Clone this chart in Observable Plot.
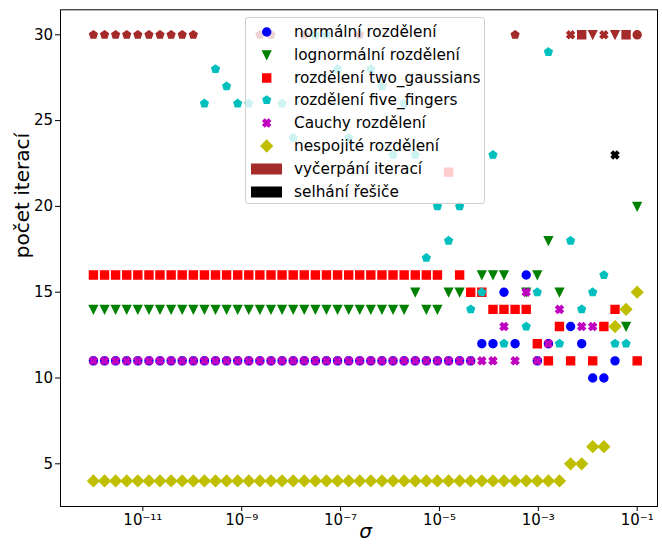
<!DOCTYPE html>
<html><head><meta charset="utf-8">
<script src="https://cdn.jsdelivr.net/npm/d3@7"></script>
<script src="https://cdn.jsdelivr.net/npm/@observablehq/plot@0.6"></script>
<style>
body{margin:0;background:#fff;}
#wrap{position:relative;width:662px;height:548px;font-family:"DejaVu Sans",sans-serif;}
#legend{position:absolute;left:245px;top:17px;width:238px;height:185px;border:1px solid #d0d0d0;border-radius:3px;background:rgba(255,255,255,0.8);}
#legend .txt{position:absolute;left:48px;font-size:15.3px;line-height:20px;white-space:nowrap;color:#000;}
#legend svg{position:absolute;}
</style></head><body><div id="wrap"></div>
<script>
// sigma values (x), 50 log-spaced points
const sigma = [1.00e-12,1.68e-12,2.81e-12,4.72e-12,7.91e-12,1.33e-11,2.22e-11,3.73e-11,6.25e-11,1.05e-10,
  1.76e-10,2.95e-10,4.94e-10,8.29e-10,1.39e-9,2.33e-9,3.91e-9,6.55e-9,1.10e-8,1.84e-8,
  3.09e-8,5.18e-8,8.69e-8,1.46e-7,2.44e-7,4.09e-7,6.87e-7,1.15e-6,1.93e-6,3.24e-6,
  5.43e-6,9.10e-6,1.53e-5,2.56e-5,4.29e-5,7.20e-5,1.21e-4,2.02e-4,3.39e-4,5.69e-4,
  9.54e-4,1.60e-3,2.68e-3,4.50e-3,7.54e-3,1.26e-2,2.12e-2,3.56e-2,5.96e-2,1.00e-1];

// iteration counts per distribution (null = not visible)
const normalni = [11,11,11,11,11,11,11,11,11,11, 11,11,11,11,11,11,11,11,11,11,
  11,11,11,11,11,11,11,11,11,11, 11,11,11,11,11,12,12,15,12,16,
  11,12,null,13,12,10,10,11,null,30];
const lognormalni = [14,14,14,14,14,14,14,14,14,14, 14,14,14,14,14,14,14,14,14,14,
  14,14,14,14,14,14,14,14,14,15, 14,14,15,15,null,16,16,16,null,15,
  16,18,15,null,null,30,null,30,13,20];
const twoGaussians = [16,16,16,16,16,16,16,16,16,16, 16,16,16,16,16,16,16,16,16,16,
  16,16,16,16,16,16,16,16,16,16, 16,16,22,16,15,15,14,14,14,14,
  12,11,13,11,30,11,13,14,30,11];
const fiveFingers = [30,30,30,30,30,30,30,30,30,30, 26,28,27,26,26,30,30,26,24,30,
  30,30,28,24,30,28,27,23,26,23, 17,20,18,20,14,15,23,12,30,13,
  15,29,12,18,14,15,16,12,12,null];
const cauchy = [11,11,11,11,11,11,11,11,11,11, 11,11,11,11,11,11,11,11,11,11,
  11,11,11,11,11,11,11,11,11,11, 11,11,11,11,11,11,11,13,11,15,
  11,12,14,30,13,13,30,23,null,null];
const nespojite = [4,4,4,4,4,4,4,4,4,4, 4,4,4,4,4,4,4,4,4,4,
  4,4,4,4,4,4,4,4,4,4, 4,4,4,4,4,4,4,4,4,4,
  4,4,4,5,5,6,6,13,14,15];

// indices of runs that exhausted iterations / where the solver failed
const vycerpaniNormalni = [49];
const vycerpaniLognormalni = [45,47];
const vycerpaniTwoGaussians = [44,48];
const vycerpaniFiveFingers = [0,1,2,3,4,5,6,7,8,9,15,16,19,24,38];
const vycerpaniCauchy = [43,46];
const vycerpaniNespojite = [];
const selhaniCauchy = [47];

const legendLabels = ["normální rozdělení","lognormální rozdělení","rozdělení two_gaussians",
  "rozdělení five_fingers","Cauchy rozdělení","nespojité rozdělení","vyčerpání iterací","selhání řešiče"];
const xTicks = [1e-11,1e-9,1e-7,1e-5,1e-3,1e-1];
const xTickLabels = ["10⁻¹¹","10⁻⁹","10⁻⁷","10⁻⁵","10⁻³","10⁻¹"];
const yTicks = [5,10,15,20,25,30];

// marker shapes (matplotlib-like)
const mk = (fn) => ({draw(ctx, size){ const h = Math.sqrt(size/Math.PI); fn(ctx, h); }});
const poly = (ctx, pts) => { ctx.moveTo(pts[0][0], pts[0][1]); for (let k=1;k<pts.length;k++) ctx.lineTo(pts[k][0], pts[k][1]); ctx.closePath(); };
const symCircle = mk((c,h)=>{ c.moveTo(h,0); c.arc(0,0,h,0,2*Math.PI); c.closePath(); });
const symTriDown = mk((c,h)=>poly(c,[[-h,-h],[h,-h],[0,h]]));
const symSquare = mk((c,h)=>poly(c,[[-h,-h],[h,-h],[h,h],[-h,h]]));
const symPentagon = mk((c,h)=>poly(c,[0,1,2,3,4].map(k=>{const a=-Math.PI/2+k*2*Math.PI/5; return [h*Math.cos(a), h*Math.sin(a)];})));
const symDiamond = mk((c,h)=>{const k=h*Math.SQRT2; poly(c,[[0,-k],[k,0],[0,k],[-k,0]]);});
const plusPts = [[-1,-3],[1,-3],[1,-1],[3,-1],[3,1],[1,1],[1,3],[-1,3],[-1,1],[-3,1],[-3,-1],[-1,-1]];
const symX = mk((c,h)=>{const s=2*h/6, r=Math.SQRT1_2; poly(c, plusPts.map(([a,b])=>[s*(a*r-b*r), s*(a*r+b*r)]));});

const BROWN = "#a52a2a";
const series = [
  {vals: normalni, exh: vycerpaniNormalni, fail: [], color: "#0000ff", sym: symCircle},
  {vals: lognormalni, exh: vycerpaniLognormalni, fail: [], color: "#008000", sym: symTriDown},
  {vals: twoGaussians, exh: vycerpaniTwoGaussians, fail: [], color: "#ff0000", sym: symSquare},
  {vals: fiveFingers, exh: vycerpaniFiveFingers, fail: [], color: "#00bfbf", sym: symPentagon},
  {vals: cauchy, exh: vycerpaniCauchy, fail: selhaniCauchy, color: "#bf00bf", sym: symX},
  {vals: nespojite, exh: vycerpaniNespojite, fail: [], color: "#bfbf00", sym: symDiamond}
];

const R = 4, SW = 1.4;
const dotMarks = [];
for (const s of series) {
  const rows = s.vals.map((v,i)=>({x: sigma[i], y: v, i})).filter(d=>d.y != null);
  const groups = [
    [rows.filter(d=>!s.exh.includes(d.i) && !s.fail.includes(d.i)), s.color],
    [rows.filter(d=>s.exh.includes(d.i)), BROWN],
    [rows.filter(d=>s.fail.includes(d.i)), "#000"]
  ];
  for (const [data, col] of groups) {
    if (!data.length) continue;
    dotMarks.push(Plot.dot(data, {x:"x", y:"y", symbol: s.sym, r: R, fill: col, stroke: col, strokeWidth: SW}));
  }
}

const chart = Plot.plot({
  width: 662, height: 548,
  marginLeft: 60, marginRight: 5, marginTop: 9.3, marginBottom: 42,
  x: {type: "log", domain: [Math.pow(10,-12.666), Math.pow(10,-0.589)]},
  y: {domain: [2.512, 31.457]},
  style: {fontFamily: "DejaVu Sans", fontSize: "15px", background: "white", color: "black", overflow: "visible"},
  marks: [
    Plot.frame({stroke: "black", strokeWidth: 1}),
    Plot.axisX({ticks: xTicks, tickFormat: (d) => xTickLabels[xTicks.indexOf(d)] ?? "", tickSize: 5, tickPadding: 2.5, fontSize: 15, label: null}),
    Plot.axisY({ticks: yTicks, tickSize: 5, tickPadding: 2.5, fontSize: 15, label: null}),
    ...dotMarks,
    Plot.text(["σ"], {text: d=>d, frameAnchor: "bottom", dx: 6.5, dy: 31, fontStyle: "italic", fontSize: 20}),
    Plot.text(["počet iterací"], {text: d=>d, frameAnchor: "left", dx: -38, rotate: -90, fontSize: 20})
  ]
});
const wrap = document.getElementById("wrap");
wrap.appendChild(chart);

// legend overlay (semi-transparent like matplotlib)
const leg = document.createElement("div");
leg.id = "legend";
wrap.appendChild(leg);
const legSyms = series.map(s=>[s.sym, s.color]);
legendLabels.forEach((lab, k) => {
  const cy = 13.7 + 22.9*k;
  const svgNS = "http://www.w3.org/2000/svg";
  const svg = document.createElementNS(svgNS, "svg");
  svg.setAttribute("width", 40); svg.setAttribute("height", 24);
  svg.style.left = "0px"; svg.style.top = (cy-12)+"px";
  if (k < 6) {
    const p = d3.path(); legSyms[k][0].draw(p, R*R*Math.PI);
    const path = document.createElementNS(svgNS, "path");
    path.setAttribute("d", p.toString());
    path.setAttribute("transform", "translate(20.7,12)");
    path.setAttribute("fill", legSyms[k][1]); path.setAttribute("stroke", legSyms[k][1]); path.setAttribute("stroke-width", SW);
    svg.appendChild(path);
  } else {
    const rect = document.createElementNS(svgNS, "rect");
    rect.setAttribute("x", 5); rect.setAttribute("y", 12-5.5); rect.setAttribute("width", 31); rect.setAttribute("height", 11);
    rect.setAttribute("fill", k===6 ? BROWN : "#000");
    svg.appendChild(rect);
  }
  leg.appendChild(svg);
  const t = document.createElement("div");
  t.className = "txt"; t.textContent = lab; t.style.top = (cy-10)+"px";
  leg.appendChild(t);
});
</script></body></html>
